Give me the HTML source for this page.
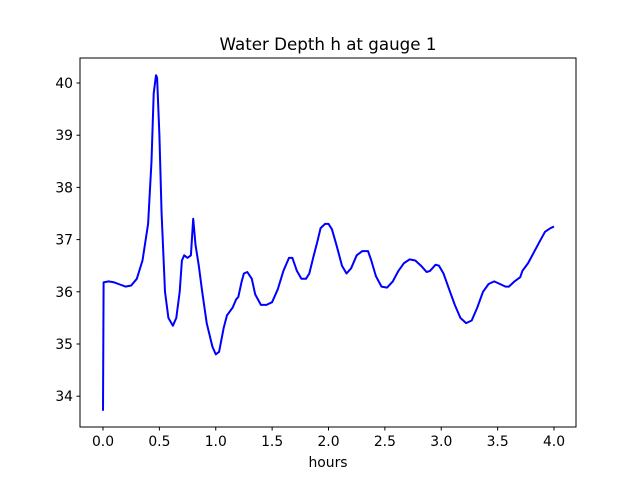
<!DOCTYPE html>
<html><head><meta charset="utf-8"><style>
html,body{margin:0;padding:0;background:#fff;}
svg text{font-family:"DejaVu Sans","Liberation Sans",sans-serif;}
</style></head><body>
<svg id="chart" width="640" height="480" xmlns="http://www.w3.org/2000/svg">
<rect x="0" y="0" width="640" height="480" fill="#fff"/>
<text x="328" y="50" font-size="16.7" text-anchor="middle">Water Depth h at gauge 1</text>
<g id="ticks"></g>
<polyline id="series" fill="none" stroke="#0000ff" stroke-width="2" stroke-linejoin="round"/>
<rect x="80" y="58" width="496" height="369" fill="none" stroke="#000" stroke-width="1"/>
<text x="328" y="467" font-size="13.9" text-anchor="middle">hours</text>
</svg>
<script>
const times=[0,0.005,0.05,0.1,0.15,0.2,0.25,0.3,0.35,0.4,0.43,0.45,0.47,0.48,0.5,0.52,0.55,0.58,0.62,0.65,0.68,0.70,0.72,0.75,0.78,0.80,0.82,0.85,0.88,0.92,0.97,1.0,1.03,1.07,1.1,1.15,1.18,1.2,1.23,1.25,1.28,1.32,1.35,1.4,1.45,1.5,1.55,1.6,1.65,1.68,1.72,1.76,1.8,1.83,1.87,1.9,1.93,1.97,2.0,2.03,2.07,2.12,2.16,2.2,2.25,2.3,2.35,2.38,2.42,2.47,2.52,2.57,2.62,2.67,2.72,2.77,2.82,2.87,2.9,2.95,2.98,3.02,3.07,3.12,3.17,3.22,3.27,3.32,3.37,3.42,3.47,3.52,3.57,3.6,3.65,3.7,3.72,3.77,3.82,3.87,3.92,3.97,4.0];
const depths=[33.72,36.18,36.2,36.18,36.14,36.1,36.12,36.25,36.6,37.3,38.5,39.8,40.15,40.1,39.0,37.5,36.0,35.5,35.35,35.5,36.0,36.6,36.7,36.65,36.7,37.4,36.9,36.5,36.0,35.4,34.95,34.8,34.85,35.3,35.55,35.7,35.85,35.9,36.2,36.35,36.38,36.25,35.95,35.75,35.75,35.8,36.05,36.4,36.65,36.65,36.4,36.25,36.25,36.35,36.7,36.95,37.22,37.3,37.3,37.2,36.9,36.5,36.35,36.45,36.7,36.78,36.78,36.6,36.3,36.1,36.08,36.2,36.4,36.55,36.62,36.6,36.5,36.38,36.4,36.52,36.5,36.35,36.05,35.75,35.5,35.4,35.45,35.7,36.0,36.15,36.2,36.15,36.1,36.1,36.2,36.28,36.4,36.55,36.75,36.95,37.15,37.22,37.25];
const xTicks=["0.0","0.5","1.0","1.5","2.0","2.5","3.0","3.5","4.0"];
const yTicks=["34","35","36","37","38","39","40"];
const xs=t=>103+t*112.75;
const ys=h=>83+(40-h)*52.2;
const NS="http://www.w3.org/2000/svg";
const g=document.getElementById('ticks');
xTicks.forEach(l=>{const x=xs(parseFloat(l));
 const ln=document.createElementNS(NS,'line');
 
 
 ln.setAttribute('x1',x);ln.setAttribute('x2',x);ln.setAttribute('y1',427);ln.setAttribute('y2',430.5);ln.setAttribute('stroke','#000');g.appendChild(ln);
 const t=document.createElementNS(NS,'text');
 
 
 t.setAttribute('x',x);t.setAttribute('y',446);t.setAttribute('font-size','13.9');t.setAttribute('text-anchor','middle');t.textContent=l;g.appendChild(t);});
yTicks.forEach(l=>{const y=ys(parseFloat(l));
 const ln=document.createElementNS(NS,'line');
 
 
 ln.setAttribute('x1',76.5);ln.setAttribute('x2',80);ln.setAttribute('y1',y);ln.setAttribute('y2',y);ln.setAttribute('stroke','#000');g.appendChild(ln);
 const t=document.createElementNS(NS,'text');
 
 
 t.setAttribute('x',73);t.setAttribute('y',y+5);t.setAttribute('font-size','13.9');t.setAttribute('text-anchor','end');t.textContent=l;g.appendChild(t);});
document.getElementById('series').setAttribute('points',times.map((t,i)=>xs(t).toFixed(1)+','+ys(depths[i]).toFixed(1)).join(' '));
</script>
</body></html>
